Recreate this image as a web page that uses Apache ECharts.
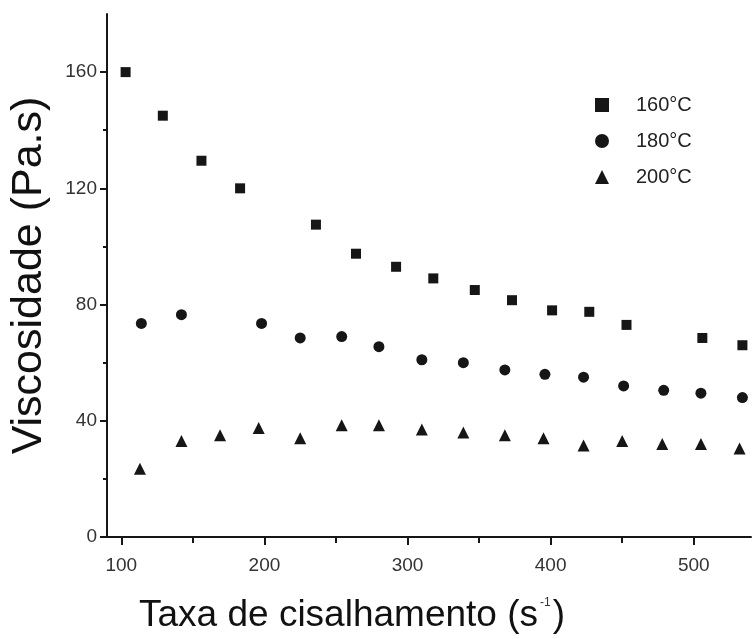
<!DOCTYPE html>
<html>
<head>
<meta charset="utf-8">
<script src="https://cdn.jsdelivr.net/npm/echarts@6/dist/echarts.min.js"></script>
<style>
html,body{margin:0;padding:0;background:#fff;}
#c{width:754px;height:639px;}
</style>
</head>
<body>
<div id="c"></div>
<script>
// Data
const seriesNames = ['160°C', '180°C', '200°C'];
const x160 = [103, 129, 156, 183, 236, 264, 292, 318, 347, 373, 401, 427, 453, 506, 534];
const y160 = [160, 145, 129.5, 120, 107.5, 97.5, 93, 89, 85, 81.5, 78, 77.5, 73, 68.5, 66];
const x180 = [114, 142, 198, 225, 254, 280, 310, 339, 368, 396, 423, 451, 479, 505, 534];
const y180 = [73.5, 76.5, 73.5, 68.5, 69, 65.5, 61, 60, 57.5, 56, 55, 52, 50.5, 49.5, 48];
const x200 = [113, 142, 169, 196, 225, 254, 280, 310, 339, 368, 395, 423, 450, 478, 505, 532];
const y200 = [23.5, 33, 35, 37.5, 34, 38.5, 38.5, 37, 36, 35, 34, 31.5, 33, 32, 32, 30.5];
const xTickLabels = [100, 200, 300, 400, 500];
const xMinorTicks = [150, 250, 350, 450];
const yTickLabels = [0, 40, 80, 120, 160];
const yMinorTicks = [20, 60, 100, 140];

const pair = (xs, ys) => xs.map((x, i) => [x, ys[i]]);
const ink = '#161616';
const font = 'Liberation Sans, Arial, sans-serif';

const chart = echarts.init(document.getElementById('c'));
const baseX = { type: 'value', min: 90, max: 540, splitLine: { show: false } };
const baseY = { type: 'value', min: 0, max: 180, splitLine: { show: false } };

chart.setOption({
  backgroundColor: '#fff',
  animation: false,
  grid: { left: 106, top: 14, right: 3, bottom: 100, containLabel: false },
  legend: {
    orient: 'vertical', left: 590, top: 89,
    itemWidth: 14, itemHeight: 14, itemGap: 14,
    textStyle: { fontFamily: font, fontSize: 20, color: '#222', padding: [0, 0, 0, 22], lineHeight: 22 },
    data: seriesNames
  },
  xAxis: [
    Object.assign({}, baseX, {
      name: 'Taxa de cisalhamento (s{sup|-1})',
      nameLocation: 'middle', nameGap: 60,
      nameTextStyle: { fontFamily: font, fontSize: 37, color: '#111', padding: [0, 154, 0, 0],
        rich: { sup: { fontFamily: font, fontSize: 12, color: '#333', verticalAlign: 'top', padding: [0, 2, 18, 2] } } },
      axisLine: { show: true, onZero: false, lineStyle: { color: ink, width: 2 } },
      axisTick: { show: true, inside: false, length: 8, customValues: xTickLabels, lineStyle: { color: ink, width: 2 } },
      axisLabel: { customValues: xTickLabels, margin: 19, fontFamily: font, fontSize: 19, color: '#333' }
    }),
    Object.assign({}, baseX, {
      position: 'bottom',
      axisLine: { show: false },
      axisTick: { show: true, length: 6, customValues: xMinorTicks, lineStyle: { color: ink, width: 2 } },
      axisLabel: { show: false }
    })
  ],
  yAxis: [
    Object.assign({}, baseY, {
      name: 'Viscosidade (Pa.s)',
      nameLocation: 'middle', nameGap: 56, nameRotate: 90,
      nameTextStyle: { fontFamily: font, fontSize: 43, color: '#111' },
      axisLine: { show: true, onZero: false, lineStyle: { color: ink, width: 2 } },
      axisTick: { show: true, length: 7, customValues: yTickLabels, lineStyle: { color: ink, width: 2 } },
      axisLabel: { customValues: yTickLabels, margin: 10, fontFamily: font, fontSize: 19, color: '#333' }
    }),
    Object.assign({}, baseY, {
      position: 'left',
      axisLine: { show: false },
      axisTick: { show: true, length: 4, customValues: yMinorTicks, lineStyle: { color: ink, width: 2 } },
      axisLabel: { show: false }
    })
  ],
  series: [
    { name: seriesNames[0], type: 'scatter', symbol: 'rect', symbolSize: 10, data: pair(x160, y160),
      itemStyle: { color: ink, opacity: 1 } },
    { name: seriesNames[1], type: 'scatter', symbol: 'circle', symbolSize: 11, data: pair(x180, y180),
      itemStyle: { color: ink, opacity: 1 } },
    { name: seriesNames[2], type: 'scatter', symbol: 'triangle', symbolSize: 12, data: pair(x200, y200),
      itemStyle: { color: ink, opacity: 1 } }
  ]
});
</script>
</body>
</html>
